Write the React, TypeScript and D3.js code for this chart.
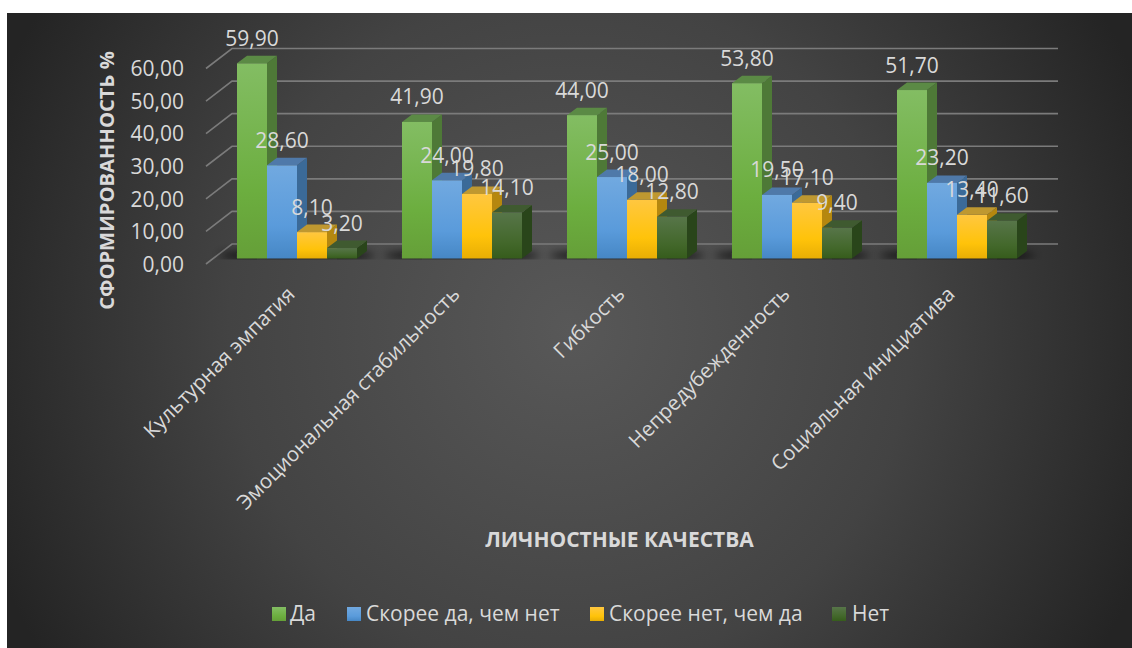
import React from "react";
import * as d3 from "d3";

const categories = ["Культурная эмпатия", "Эмоциональная стабильность", "Гибкость", "Непредубежденность", "Социальная инициатива"];
const seriesNames = ["Да", "Скорее да, чем нет", "Скорее нет, чем да", "Нет"];
const da = [59.9, 41.9, 44.0, 53.8, 51.7];
const skoreeDa = [28.6, 24.0, 25.0, 19.5, 23.2];
const skoreeNet = [8.1, 19.8, 18.0, 17.1, 13.4];
const net = [3.2, 14.1, 12.8, 9.4, 11.6];
const seriesValues = [da, skoreeDa, skoreeNet, net];
const yTicks = [0, 10, 20, 30, 40, 50, 60];
const xTitle = "ЛИЧНОСТНЫЕ КАЧЕСТВА";
const yTitle = "СФОРМИРОВАННОСТЬ %";

const palette = [
  { a: "#83bd63", b: "#6cae3f", c: "#659f38", side: "#4e7937", top: "#5b8a45" },
  { a: "#71a9e0", b: "#5a9bdb", c: "#4687c5", side: "#3b6a98", top: "#4f79a9" },
  { a: "#ffc740", b: "#ffc30a", c: "#e8ae04", side: "#b5870f", top: "#bf9830" },
  { a: "#577549", b: "#43682b", c: "#365c1c", side: "#29451a", top: "#3f5a30" },
];

const FONT = "'Open Sans', sans-serif";
const TXT = "#d9d9d9";

const fmt = (v: number) => v.toFixed(2).replace(".", ",");

export default function App() {
  const W = 1132, H = 648;
  const y = d3.scaleLinear().domain([0, 60]).range([258.5, 63]);
  const xCat = d3.scaleBand<number>().domain(d3.range(categories.length)).range([154.5, 979.5]).paddingInner(0).paddingOuter(0);
  const xBar = (c: number, s: number) => (xCat(c) as number) + 82.5 + s * 30;
  const barW = 30;
  const dx = 10, dy = -7.5;
  const wallDx = 26, wallDy = -20;
  const wallY = (v: number) => y(v) + 5.5;
  const wallX = 206;
  const gridEnd = 1058;

  const legendPos = [
    { sx: 272, tx: 290 },
    { sx: 347, tx: 366 },
    { sx: 590, tx: 609 },
    { sx: 832, tx: 852 },
  ];

  return (
    <svg width={W} height={H} style={{ position: "absolute", left: 0, top: 0, background: "#fff" }}>
      <defs>
        <radialGradient id="bg" gradientUnits="userSpaceOnUse" cx={570} cy={330} r={620}>
          <stop offset="0" stopColor="#585858" />
          <stop offset="0.55" stopColor="#434343" />
          <stop offset="1" stopColor="#242424" />
        </radialGradient>
        <filter id="blur" x="-30%" y="-200%" width="160%" height="500%">
          <feGaussianBlur stdDeviation="4" />
        </filter>
        <clipPath id="floorClip">
          <rect x={0} y={0} width={W} height={y(0) + 1} />
        </clipPath>
        {palette.map((p, i) => (
          <linearGradient key={i} id={`g${i}`} x1="0" y1="0" x2="0" y2="1">
            <stop offset="0" stopColor={p.a} />
            <stop offset="0.65" stopColor={p.b} />
            <stop offset="1" stopColor={p.c} />
          </linearGradient>
        ))}
      </defs>
      <rect x={7} y={13} width={W - 7} height={H - 13} fill="url(#bg)" />

      {yTicks.map((t) => (
        <path
          key={t}
          d={`M${wallX},${wallY(t)}L${wallX + wallDx},${wallY(t) + wallDy}L${gridEnd},${wallY(t) + wallDy}`}
          fill="none"
          stroke="#7b7b7b"
          strokeWidth={1.6}
        />
      ))}

      <g clipPath="url(#floorClip)">
        {categories.map((_, c) => (
          <ellipse
            key={c}
            cx={xBar(c, 2)}
            cy={y(0) - 3}
            rx={78}
            ry={4.5}
            fill="#111"
            opacity={0.85}
            filter="url(#blur)"
          />
        ))}
      </g>

      {categories.map((_, c) => (
        <g key={c}>
          {seriesValues.map((vals, s) => {
            const x0 = xBar(c, s);
            const y0 = y(vals[c]);
            const b = y(0);
            const p = palette[s];
            return (
              <g key={s}>
                <path d={`M${x0 + barW},${y0}l${dx},${dy}L${x0 + barW + dx},${b + dy}L${x0 + barW},${b}Z`} fill={p.side} />
                <path d={`M${x0},${y0}l${dx},${dy}h${barW}l${-dx},${-dy}Z`} fill={p.top} />
                <rect x={x0} y={y0} width={barW} height={b - y0} fill={`url(#g${s})`} />
              </g>
            );
          })}
        </g>
      ))}

      {yTicks.map((t) => (
        <text key={t} x={184} y={wallY(t) + 7.7} textAnchor="end" fontFamily={FONT} fontSize={21} fill={TXT}>
          {fmt(t)}
        </text>
      ))}

      {categories.map((_, c) =>
        seriesValues.map((vals, s) => (
          <text
            key={`${c}-${s}`}
            x={xBar(c, s) + barW / 2}
            y={y(vals[c]) - 17.5}
            textAnchor="middle"
            fontFamily={FONT}
            fontSize={21}
            fill={TXT}
          >
            {fmt(vals[c])}
          </text>
        ))
      )}

      {categories.map((name, c) => {
        const tx = xBar(c, 2) - 1;
        const ty = 295.5;
        return (
          <text
            key={name}
            transform={`translate(${tx},${ty}) rotate(-45)`}
            textAnchor="end"
            fontFamily={FONT}
            fontSize={20.5}
            fill={TXT}
          >
            {name}
          </text>
        );
      })}

      <text
        transform="translate(114,180.5) rotate(-90)"
        textAnchor="middle"
        fontFamily={FONT}
        fontWeight={700}
        fontSize={20.2}
        fill={TXT}
      >
        {yTitle}
      </text>
      <text x={619.5} y={547} textAnchor="middle" fontFamily={FONT} fontWeight={700} fontSize={21} fill={TXT}>
        {xTitle}
      </text>

      {seriesNames.map((n, i) => (
        <g key={n}>
          <rect x={legendPos[i].sx} y={607} width={14} height={14} fill={`url(#g${i})`} />
          <text x={legendPos[i].tx} y={621} fontFamily={FONT} fontSize={21} fill={TXT}>
            {n}
          </text>
        </g>
      ))}
    </svg>
  );
}
